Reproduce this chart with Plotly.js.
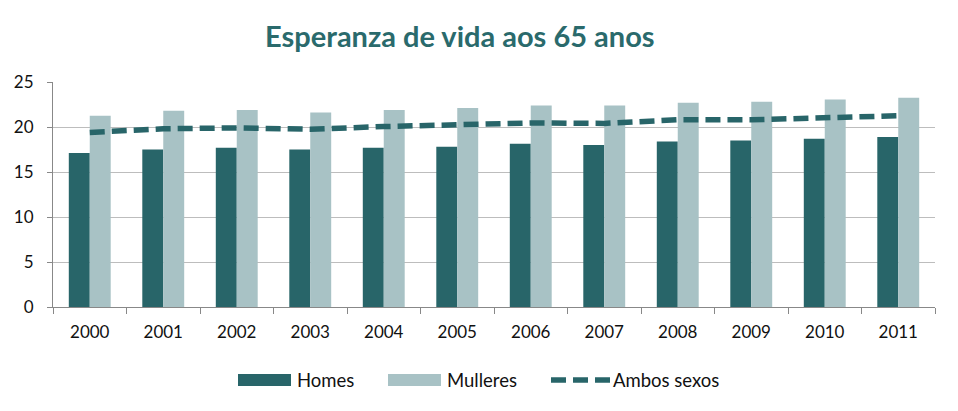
<!DOCTYPE html>
<html>
<head>
<meta charset="utf-8">
<script src="https://cdn.plot.ly/plotly-3.0.1.min.js"></script>
<style>html,body{margin:0;padding:0;background:#fff;}#chart{width:958px;height:411px;}</style>
</head>
<body>
<div id="chart"></div>
<script>
const years = ['2000','2001','2002','2003','2004','2005','2006','2007','2008','2009','2010','2011'];
const homes = [17.1, 17.5, 17.7, 17.5, 17.7, 17.8, 18.15, 18.0, 18.4, 18.5, 18.7, 18.9];
const mulleres = [21.25, 21.8, 21.9, 21.6, 21.9, 22.1, 22.4, 22.4, 22.7, 22.8, 23.05, 23.25];
const ambos = [19.4, 19.8, 19.9, 19.75, 20.05, 20.2, 20.45, 20.4, 20.8, 20.8, 21.05, 21.25];
const yTicks = [0, 5, 10, 15, 20, 25];
const seriesNames = ['Homes', 'Mulleres', 'Ambos sexos'];

const dark = '#286569';
const light = '#a8c2c5';
const fontFam = 'Lato, "Open Sans", sans-serif';
const dashPat = '15px,7px';

// plot area in pixels (for legend placement)
const W = 958, H = 411, mL = 53, mR = 23, mT = 82, mB = 104;
const pw = W - mL - mR, ph = H - mT - mB;
const px = v => (v - mL) / pw;
const py = v => (H - mB - v) / ph;

const data = [
  {type:'bar', name:seriesNames[0], x:years, y:homes, marker:{color:dark}, hoverinfo:'y'},
  {type:'bar', name:seriesNames[1], x:years, y:mulleres, marker:{color:light}, hoverinfo:'y'},
  {type:'scatter', mode:'lines', name:seriesNames[2], x:years, y:ambos,
   line:{color:dark, width:5.5, dash:dashPat}, hoverinfo:'y'}
];

const legY = 380;
const shapes = [
  {type:'rect', xref:'paper', yref:'paper', x0:px(238), x1:px(291), y0:py(386), y1:py(374),
   fillcolor:dark, line:{width:0}},
  {type:'rect', xref:'paper', yref:'paper', x0:px(388), x1:px(441), y0:py(386), y1:py(374),
   fillcolor:light, line:{width:0}},
  {type:'line', xref:'paper', yref:'paper', x0:px(551), x1:px(610), y0:py(legY), y1:py(legY),
   line:{color:dark, width:5.5, dash:dashPat}}
];
const legText = (t, x) => ({xref:'paper', yref:'paper', x:px(x), y:py(legY), text:t,
  showarrow:false, xanchor:'left', yanchor:'middle', font:{family:fontFam, size:18.5, color:'#111'}});
const annotations = [legText(seriesNames[0], 295), legText(seriesNames[1], 445), legText(seriesNames[2], 611)];

const layout = {
  width:W, height:H,
  margin:{l:mL, r:mR, t:mT, b:mB},
  paper_bgcolor:'#fff', plot_bgcolor:'#fff',
  font:{family:fontFam, size:17, color:'#222'},
  title:{text:'<b>Esperanza de vida aos 65 anos</b>', font:{family:fontFam, size:29, color:'#2a6a6c'},
         x:0.48, xanchor:'center', y:0.91, yanchor:'middle'},
  barmode:'group', bargap:0.43, bargroupgap:0,
  xaxis:{type:'category', tickson:'boundaries', ticks:'outside', ticklen:6, tickcolor:'#888',
         showline:true, linecolor:'#888', linewidth:1, showgrid:false, ticklabelstandoff:10,
         tickfont:{family:fontFam, size:17, color:'#111'}},
  yaxis:{range:[0,25], tickvals:yTicks, ticks:'outside', ticklen:5, tickcolor:'#888',
         showline:true, linecolor:'#888', linewidth:1, showgrid:true, gridcolor:'#bdbdbd',
         zeroline:false, ticklabelstandoff:10,
         tickfont:{family:fontFam, size:17, color:'#111'}},
  showlegend:false,
  shapes:shapes,
  annotations:annotations
};

Plotly.newPlot('chart', data, layout, {displayModeBar:false, staticPlot:true});
</script>
</body>
</html>
